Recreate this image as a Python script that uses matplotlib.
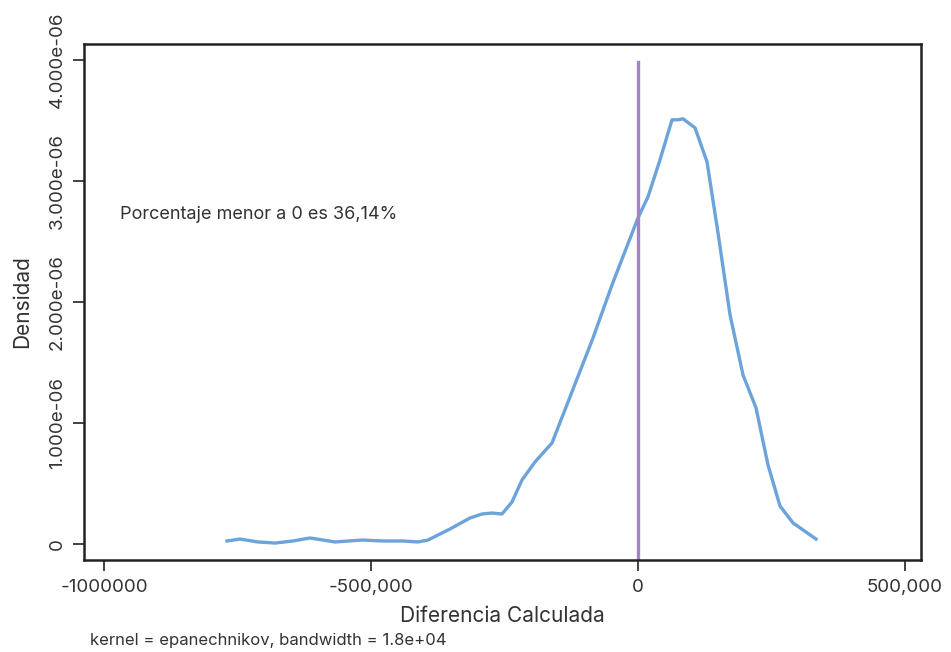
import numpy as np
import matplotlib.pyplot as plt

plt.rcParams['font.family'] = ['Inter', 'DejaVu Sans']

# estimated density (kernel = epanechnikov)
dif = [-769700, -745300, -711600, -679800, -646100, -614200, -567400, -516900,
       -477500, -440100, -412000, -393300, -352100, -314600, -292100, -273400,
       -254700, -236000, -217200, -192900, -161000, -84300, -48700, 0,
       18700, 41200, 63700, 74900, 84300, 106700, 129200, 149800,
       172300, 196600, 221000, 243400, 265900, 290300, 333300]
dens = [0.025, 0.041, 0.017, 0.008, 0.025, 0.050, 0.017, 0.033,
        0.025, 0.025, 0.017, 0.033, 0.124, 0.215, 0.248, 0.256,
        0.248, 0.347, 0.529, 0.678, 0.835, 1.702, 2.140, 2.694,
        2.868, 3.174, 3.504, 3.504, 3.512, 3.438, 3.157, 2.570,
        1.893, 1.397, 1.124, 0.653, 0.314, 0.174, 0.041]
dens = [d * 1e-6 for d in dens]

xticks = [-1000000, -500000, 0, 500000]
xlabels = ['-1000000', '-500,000', '0', '500,000']
yticks = [0, 1e-6, 2e-6, 3e-6, 4e-6]
ylabels = ['0', '1.000e-06', '2.000e-06', '3.000e-06', '4.000e-06']

texto = 'Porcentaje menor a 0 es 36,14%'
nota = 'kernel = epanechnikov, bandwidth = 1.8e+04'

txt = '#333333'
fig = plt.figure(figsize=(9.51, 6.52), dpi=100)
ax = fig.add_axes([0.0883, 0.1411, 0.8802, 0.7914])

ax.plot(dif, dens, color='#6ba3da', lw=2.4, solid_joinstyle='round')
ax.plot([0, 0], [-0.14e-6, 3.98e-6], color='#a383c2', lw=2.4)

ax.set_xlim(-1037500, 530000)
ax.set_ylim(-0.132e-6, 4.13e-6)

ax.set_xticks(xticks)
ax.set_xticklabels(xlabels)
ax.set_yticks(yticks)
ax.set_yticklabels(ylabels, rotation=90, va='center')

ax.tick_params(axis='both', direction='out', length=8, width=1.2,
               colors='#222222', labelcolor=txt, labelsize=13.5)
ax.tick_params(axis='x', pad=6)
ax.tick_params(axis='y', pad=5)
for s in ax.spines.values():
    s.set_linewidth(1.8)
    s.set_color('#222222')

ax.set_xlabel('Diferencia Calculada', fontsize=15, color=txt, labelpad=7)
ax.set_ylabel('Densidad', fontsize=15, color=txt, labelpad=12)

ax.text(-970000, 2.72e-6, texto, fontsize=13, color=txt, ha='left', va='center')
fig.text(90 / 951, 1 - 641 / 652, nota, fontsize=12, color=txt,
         ha='left', va='center')

fig.savefig('out.png', dpi=100)
